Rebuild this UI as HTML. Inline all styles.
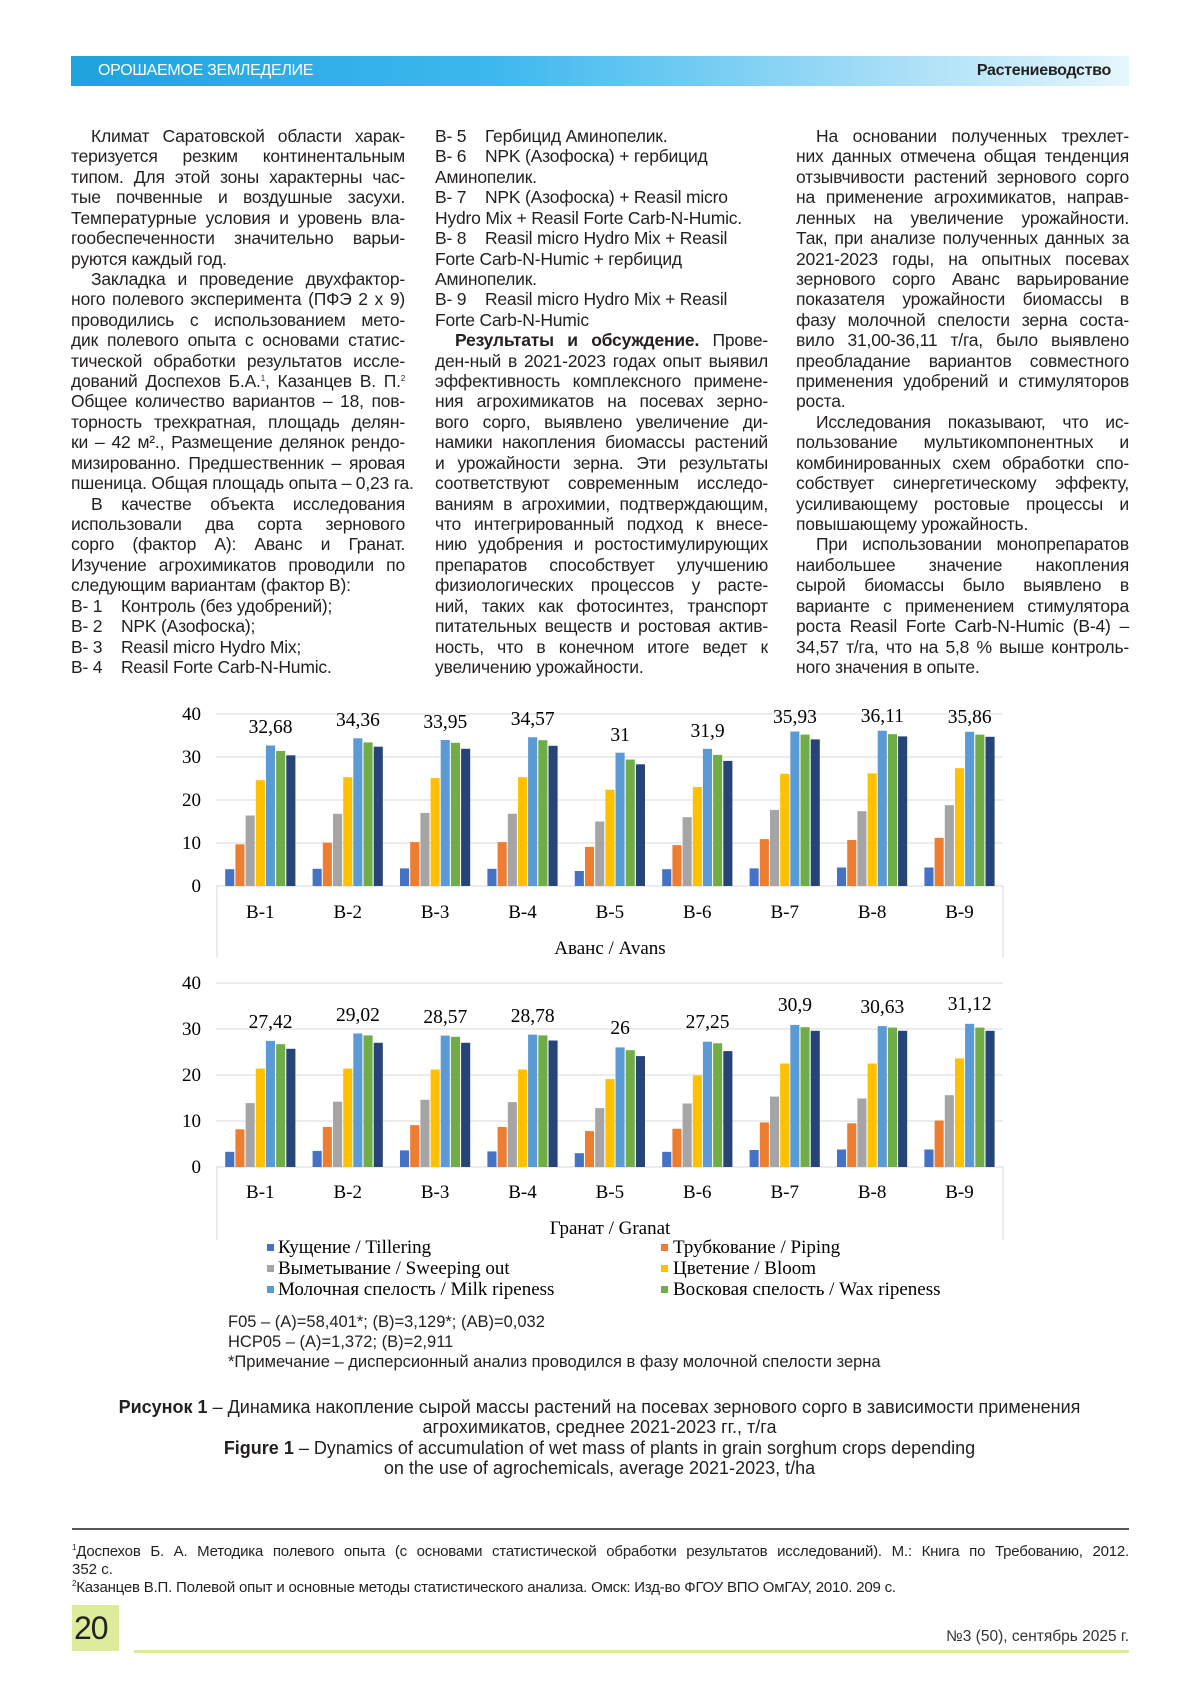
<!DOCTYPE html>
<html><head><meta charset="utf-8"><style>
*{margin:0;padding:0;box-sizing:border-box}
body{width:1200px;height:1697px;background:#fff;position:relative;overflow:hidden;font-family:"Liberation Sans",sans-serif;color:#231f20}
.hdr{position:absolute;left:71px;top:56px;width:1058px;height:30px;background:linear-gradient(90deg,#1ea3de 0%,#3db8ee 40%,#9fdcf6 75%,#e6f6fd 100%)}
.hdr .l{position:absolute;left:27px;top:6px;color:#fff;font-size:16px;letter-spacing:-0.3px}
.hdr .r{position:absolute;right:18px;top:6px;color:#222;font-size:16px;font-weight:bold;letter-spacing:-0.3px}
.col{position:absolute;top:126px;font-size:17.5px;line-height:20.43px;letter-spacing:-0.2px}
.col div{white-space:nowrap;height:20.43px;overflow:visible}
.j{text-align:justify;text-align-last:justify}
.i{padding-left:20px}
.c1{left:71px;width:334px}.c2{left:435px;width:333px}.c3{left:796px;width:333px}
.t{position:absolute;white-space:nowrap}
sup{font-size:8px;vertical-align:6px;line-height:0}
</style></head><body>
<div class="hdr"><span class="l">ОРОШАЕМОЕ ЗЕМЛЕДЕЛИЕ</span><span class="r">Растениеводство</span></div>

<div class="col c1">
<div class="j i">Климат Саратовской области харак-</div>
<div class="j">теризуется резким континентальным</div>
<div class="j">типом. Для этой зоны характерны час-</div>
<div class="j">тые почвенные и воздушные засухи.</div>
<div class="j">Температурные условия и уровень вла-</div>
<div class="j">гообеспеченности значительно варьи-</div>
<div>руются каждый год.</div>
<div class="j i">Закладка и проведение двухфактор-</div>
<div class="j">ного полевого эксперимента (ПФЭ 2 х 9)</div>
<div class="j">проводились с использованием мето-</div>
<div class="j">дик полевого опыта с основами статис-</div>
<div class="j">тической обработки результатов иссле-</div>
<div class="j">дований Доспехов Б.А.<sup>1</sup>, Казанцев В. П.<sup>2</sup></div>
<div class="j">Общее количество вариантов – 18, пов-</div>
<div class="j">торность трехкратная, площадь делян-</div>
<div class="j">ки – 42 м²., Размещение делянок рендо-</div>
<div class="j">мизированно. Предшественник – яровая</div>
<div class="j">пшеница. Общая площадь опыта – 0,23 га.</div>
<div class="j i">В качестве объекта исследования</div>
<div class="j">использовали два сорта зернового</div>
<div class="j">сорго (фактор А): Аванс и Гранат.</div>
<div class="j">Изучение агрохимикатов проводили по</div>
<div>следующим вариантам (фактор В):</div>
<div>В- 1&nbsp;&nbsp;&nbsp;&nbsp;Контроль (без удобрений);</div>
<div>В- 2&nbsp;&nbsp;&nbsp;&nbsp;NPK (Азофоска);</div>
<div>В- 3&nbsp;&nbsp;&nbsp;&nbsp;Reasil micro Hydro Mix;</div>
<div>В- 4&nbsp;&nbsp;&nbsp;&nbsp;Reasil Forte Carb-N-Humic.</div>
</div>

<div class="col c2">
<div>В- 5&nbsp;&nbsp;&nbsp;&nbsp;Гербицид Аминопелик.</div>
<div>В- 6&nbsp;&nbsp;&nbsp;&nbsp;NPK (Азофоска) + гербицид</div>
<div>Аминопелик.</div>
<div>В- 7&nbsp;&nbsp;&nbsp;&nbsp;NPK (Азофоска) + Reasil micro</div>
<div>Hydro Mix + Reasil Forte Carb-N-Humic.</div>
<div>В- 8&nbsp;&nbsp;&nbsp;&nbsp;Reasil micro Hydro Mix + Reasil</div>
<div>Forte Carb-N-Humic + гербицид</div>
<div>Аминопелик.</div>
<div>В- 9&nbsp;&nbsp;&nbsp;&nbsp;Reasil micro Hydro Mix + Reasil</div>
<div>Forte Carb-N-Humic</div>
<div class="j i"><b>Результаты и обсуждение.</b> Прове-</div>
<div class="j">ден-ный в 2021-2023 годах опыт выявил</div>
<div class="j">эффективность комплексного примене-</div>
<div class="j">ния агрохимикатов на посевах зерно-</div>
<div class="j">вого сорго, выявлено увеличение ди-</div>
<div class="j">намики накопления биомассы растений</div>
<div class="j">и урожайности зерна. Эти результаты</div>
<div class="j">соответствуют современным исследо-</div>
<div class="j">ваниям в агрохимии, подтверждающим,</div>
<div class="j">что интегрированный подход к внесе-</div>
<div class="j">нию удобрения и ростостимулирующих</div>
<div class="j">препаратов способствует улучшению</div>
<div class="j">физиологических процессов у расте-</div>
<div class="j">ний, таких как фотосинтез, транспорт</div>
<div class="j">питательных веществ и ростовая актив-</div>
<div class="j">ность, что в конечном итоге ведет к</div>
<div>увеличению урожайности.</div>
</div>

<div class="col c3">
<div class="j i">На основании полученных трехлет-</div>
<div class="j">них данных отмечена общая тенденция</div>
<div class="j">отзывчивости растений зернового сорго</div>
<div class="j">на применение агрохимикатов, направ-</div>
<div class="j">ленных на увеличение урожайности.</div>
<div class="j">Так, при анализе полученных данных за</div>
<div class="j">2021-2023 годы, на опытных посевах</div>
<div class="j">зернового сорго Аванс варьирование</div>
<div class="j">показателя урожайности биомассы в</div>
<div class="j">фазу молочной спелости зерна соста-</div>
<div class="j">вило 31,00-36,11 т/га, было выявлено</div>
<div class="j">преобладание вариантов совместного</div>
<div class="j">применения удобрений и стимуляторов</div>
<div>роста.</div>
<div class="j i">Исследования показывают, что ис-</div>
<div class="j">пользование мультикомпонентных и</div>
<div class="j">комбинированных схем обработки спо-</div>
<div class="j">собствует синергетическому эффекту,</div>
<div class="j">усиливающему ростовые процессы и</div>
<div>повышающему урожайность.</div>
<div class="j i">При использовании монопрепаратов</div>
<div class="j">наибольшее значение накопления</div>
<div class="j">сырой биомассы было выявлено в</div>
<div class="j">варианте с применением стимулятора</div>
<div class="j">роста Reasil Forte Carb-N-Humic (В-4) –</div>
<div class="j">34,57 т/га, что на 5,8 % выше контроль-</div>
<div>ного значения в опыте.</div>
</div>

<svg style="position:absolute;left:0;top:0" width="1200" height="1320" font-family="Liberation Serif, serif" fill="#000">
<g id="grid" stroke="#d9d9d9" stroke-width="1">
<line x1="216" x2="1003" y1="714" y2="714"/><line x1="216" x2="1003" y1="757" y2="757"/><line x1="216" x2="1003" y1="800" y2="800"/><line x1="216" x2="1003" y1="843" y2="843"/><line x1="216" x2="1003" y1="886" y2="886"/>
<line x1="217" x2="217" y1="886" y2="958"/><line x1="1003" x2="1003" y1="886" y2="958"/>
<line x1="216" x2="1003" y1="983" y2="983"/><line x1="216" x2="1003" y1="1029" y2="1029"/><line x1="216" x2="1003" y1="1075" y2="1075"/><line x1="216" x2="1003" y1="1121" y2="1121"/><line x1="216" x2="1003" y1="1167" y2="1167"/>
<line x1="217" x2="217" y1="1167" y2="1240"/><line x1="1003" x2="1003" y1="1167" y2="1240"/>
</g>
<g id="bars"></g>
<g font-size="19" text-anchor="end">
<text x="201" y="720">40</text><text x="201" y="763">30</text><text x="201" y="806">20</text><text x="201" y="849">10</text><text x="201" y="892">0</text>
<text x="201" y="989">40</text><text x="201" y="1035">30</text><text x="201" y="1081">20</text><text x="201" y="1127">10</text><text x="201" y="1173">0</text>
</g>
<g font-size="19" text-anchor="middle">
<text x="260.3" y="918">В-1</text><text x="347.7" y="918">В-2</text><text x="435.1" y="918">В-3</text><text x="522.5" y="918">В-4</text><text x="609.9" y="918">В-5</text><text x="697.3" y="918">В-6</text><text x="784.7" y="918">В-7</text><text x="872.1" y="918">В-8</text><text x="959.5" y="918">В-9</text>
<text x="610" y="954">Аванс / Avans</text>
<text x="260.3" y="1198">В-1</text><text x="347.7" y="1198">В-2</text><text x="435.1" y="1198">В-3</text><text x="522.5" y="1198">В-4</text><text x="609.9" y="1198">В-5</text><text x="697.3" y="1198">В-6</text><text x="784.7" y="1198">В-7</text><text x="872.1" y="1198">В-8</text><text x="959.5" y="1198">В-9</text>
<text x="610" y="1234">Гранат / Granat</text>
</g>
<g font-size="19.5" text-anchor="middle">
<text x="270.5" y="733">32,68</text><text x="357.9" y="726">34,36</text><text x="445.3" y="728">33,95</text><text x="532.7" y="725">34,57</text><text x="620.1" y="741">31</text><text x="707.5" y="737">31,9</text><text x="794.9" y="723">35,93</text><text x="882.3" y="722">36,11</text><text x="969.7" y="723">35,86</text>
<text x="270.5" y="1028">27,42</text><text x="357.9" y="1021">29,02</text><text x="445.3" y="1023">28,57</text><text x="532.7" y="1022">28,78</text><text x="620.1" y="1034">26</text><text x="707.5" y="1028">27,25</text><text x="794.9" y="1011">30,9</text><text x="882.3" y="1013">30,63</text><text x="969.7" y="1010">31,12</text>
</g>
<g font-size="19">
<rect x="267" y="1244" width="7" height="7" fill="#4472c4"/><text x="278" y="1253">Кущение / Tillering</text>
<rect x="661" y="1244" width="7" height="7" fill="#ed7d31"/><text x="673" y="1253">Трубкование / Piping</text>
<rect x="267" y="1265" width="7" height="7" fill="#a5a5a5"/><text x="278" y="1274">Выметывание / Sweeping out</text>
<rect x="661" y="1265" width="7" height="7" fill="#ffc000"/><text x="673" y="1274">Цветение / Bloom</text>
<rect x="267" y="1286" width="7" height="7" fill="#5b9bd5"/><text x="278" y="1295">Молочная спелость / Milk ripeness</text>
<rect x="661" y="1286" width="7" height="7" fill="#70ad47"/><text x="673" y="1295">Восковая спелость / Wax ripeness</text>
</g>
</svg>

<div class="t" style="left:228px;top:1312px;font-size:16.5px;line-height:20px">F05 – (A)=58,401*; (B)=3,129*; (AB)=0,032<br>HCP05 – (A)=1,372; (B)=2,911<br>*Примечание – дисперсионный анализ проводился в фазу молочной спелости зерна</div>

<div class="t" style="left:0;width:1199px;top:1397px;font-size:18px;line-height:20.3px;text-align:center">
<b>Рисунок 1</b> – Динамика накопление сырой массы растений на посевах зернового сорго в зависимости применения<br>агрохимикатов, среднее 2021-2023 гг., т/га<br><b>Figure 1</b> – Dynamics of accumulation of wet mass of plants in grain sorghum crops depending<br>on the use of agrochemicals, average 2021-2023, t/ha</div>

<div style="position:absolute;left:72px;top:1528px;width:1057px;height:2px;background:#555"></div>
<div class="t" style="left:72px;top:1543px;font-size:15px;line-height:18px;width:1057px"><div style="text-align:justify;text-align-last:justify;letter-spacing:-0.2px"><sup>1</sup>Доспехов Б. А. Методика полевого опыта (с основами статистической обработки результатов исследований). М.: Книга по Требованию, 2012.</div><div>352 с.</div><div style="letter-spacing:-0.2px"><sup>2</sup>Казанцев В.П. Полевой опыт и основные методы статистического анализа. Омск: Изд-во ФГОУ ВПО ОмГАУ, 2010. 209 с.</div></div>

<div style="position:absolute;left:72px;top:1605px;width:47px;height:46px;background:#dcec9b"></div>
<div class="t" style="left:74px;top:1610px;font-size:32px;color:#222;letter-spacing:-1px">20</div>
<div style="position:absolute;left:134px;top:1650px;width:995px;height:3px;background:#dcec9b"></div>
<div class="t" style="right:71px;top:1628px;font-size:15.5px;color:#333">№3 (50), сентябрь 2025 г.</div>

<script>
var A=[[3.9,9.7,16.4,24.6,32.68,31.4,30.4],[4.0,10.1,16.8,25.3,34.36,33.4,32.4],[4.1,10.2,17.0,25.1,33.95,33.3,31.9],[4.0,10.2,16.8,25.3,34.57,33.9,32.6],[3.5,9.1,15.0,22.4,31,29.4,28.3],[3.9,9.5,16.0,23.0,31.9,30.5,29.1],[4.1,10.9,17.7,26.1,35.93,35.2,34.1],[4.3,10.7,17.4,26.2,36.11,35.3,34.8],[4.3,11.2,18.8,27.4,35.86,35.2,34.7]];
var G=[[3.3,8.2,13.9,21.4,27.42,26.7,25.7],[3.5,8.7,14.2,21.4,29.02,28.6,27.0],[3.6,9.1,14.6,21.2,28.57,28.3,27.0],[3.4,8.7,14.1,21.2,28.78,28.6,27.5],[3.0,7.8,12.8,19.1,26,25.4,24.1],[3.3,8.3,13.8,19.9,27.25,26.9,25.2],[3.7,9.7,15.3,22.5,30.9,30.4,29.6],[3.8,9.5,14.9,22.5,30.63,30.3,29.6],[3.8,10.1,15.6,23.6,31.12,30.3,29.6]];
var C=["#4472c4","#ed7d31","#a5a5a5","#ffc000","#5b9bd5","#70ad47","#264478"];
var s="";
function draw(D,y0,k){for(var g=0;g<9;g++){var c=216.6+87.4*(g+0.5);for(var i=0;i<7;i++){var h=D[g][i]*k;var x=c+(i-3)*10.17-4.55;s+='<rect x="'+x.toFixed(1)+'" y="'+(y0-h).toFixed(1)+'" width="9.1" height="'+h.toFixed(1)+'" fill="'+C[i]+'"/>';}}}
draw(A,886,4.3);draw(G,1167,4.6);
document.getElementById("bars").innerHTML=s;
</script>
</body></html>
